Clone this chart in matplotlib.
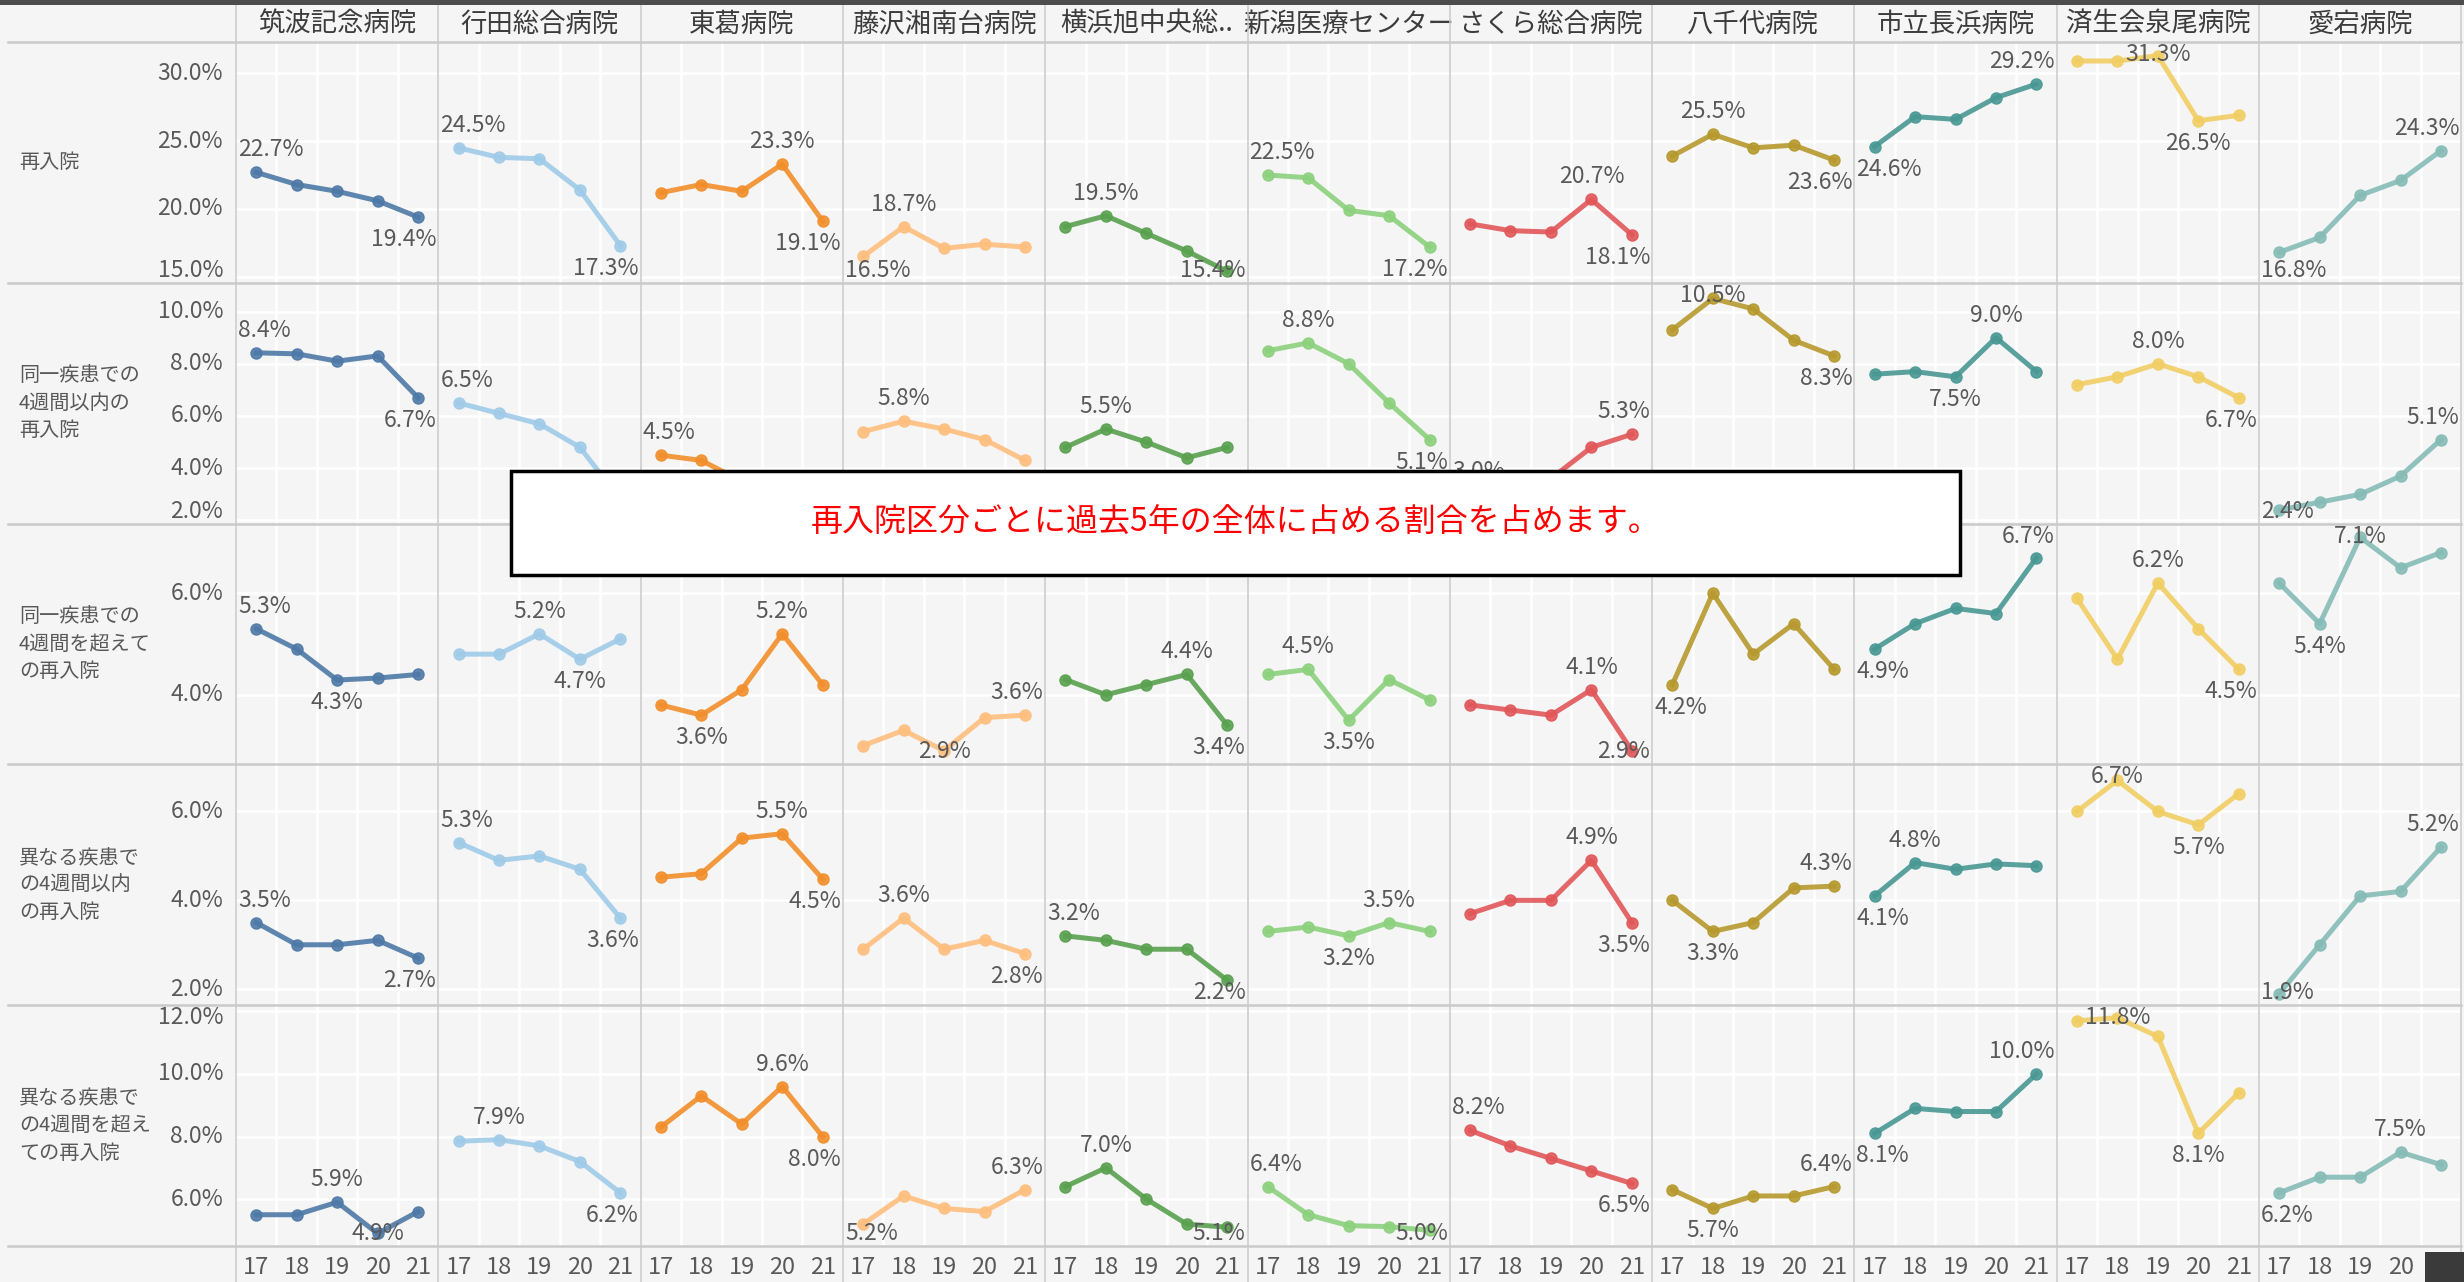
import matplotlib
matplotlib.use("Agg")
import matplotlib.pyplot as plt
from matplotlib.patches import Rectangle
from matplotlib.lines import Line2D
from matplotlib.transforms import IdentityTransform

plt.rcParams['font.family'] = ['Noto Sans CJK JP', 'DejaVu Sans']

W, H = 2464, 1282

years = [17, 18, 19, 20, 21]
hospitals = ["筑波記念病院", "行田総合病院", "東葛病院", "藤沢湘南台病院", "横浜旭中央総..",
             "新潟医療センター", "さくら総合病院", "八千代病院", "市立長浜病院",
             "済生会泉尾病院", "愛宕病院"]
colors = ["#4e79a7", "#a0cbe8", "#f28e2b", "#ffbe7d", "#59a14f", "#8cd17d",
          "#e15759", "#b6992d", "#499894", "#f1ce63", "#86bcb6"]
row_labels = ["再入院",
              "同一疾患での\n4週間以内の\n再入院",
              "同一疾患での\n4週間を超えて\nの再入院",
              "異なる疾患で\nの4週間以内\nの再入院",
              "異なる疾患で\nの4週間を超え\nての再入院"]

# values in %, one list per hospital (2017..2021)
readmit_total = [
    [22.7, 21.8, 21.3, 20.6, 19.4],
    [24.5, 23.8, 23.7, 21.4, 17.3],
    [21.2, 21.8, 21.3, 23.3, 19.1],
    [16.5, 18.7, 17.1, 17.4, 17.2],
    [18.7, 19.5, 18.2, 16.9, 15.4],
    [22.5, 22.3, 19.9, 19.5, 17.2],
    [18.9, 18.4, 18.3, 20.7, 18.1],
    [23.9, 25.5, 24.5, 24.7, 23.6],
    [24.6, 26.8, 26.6, 28.2, 29.2],
    [30.9, 30.9, 31.3, 26.5, 26.9],
    [16.8, 17.9, 21.0, 22.1, 24.3],
]
same_within_4w = [
    [8.42, 8.38, 8.1, 8.3, 6.7],
    [6.5, 6.1, 5.7, 4.8, 2.8],
    [4.5, 4.3, 3.5, 3.4, 3.1],
    [5.4, 5.8, 5.5, 5.1, 4.3],
    [4.8, 5.5, 5.0, 4.4, 4.8],
    [8.5, 8.8, 8.0, 6.5, 5.1],
    [3.0, 3.1, 3.6, 4.8, 5.3],
    [9.3, 10.5, 10.1, 8.9, 8.3],
    [7.6, 7.7, 7.5, 9.0, 7.7],
    [7.2, 7.5, 8.0, 7.5, 6.7],
    [2.4, 2.7, 3.0, 3.7, 5.1],
]
same_over_4w = [
    [5.3, 4.9, 4.29, 4.33, 4.4],
    [4.8, 4.8, 5.2, 4.7, 5.1],
    [3.8, 3.6, 4.1, 5.2, 4.2],
    [3.0, 3.3, 2.9, 3.55, 3.6],
    [4.3, 4.0, 4.2, 4.4, 3.4],
    [4.4, 4.5, 3.5, 4.3, 3.9],
    [3.8, 3.7, 3.6, 4.1, 2.9],
    [4.2, 6.0, 4.8, 5.4, 4.5],
    [4.9, 5.4, 5.7, 5.6, 6.7],
    [5.9, 4.7, 6.2, 5.3, 4.5],
    [6.2, 5.4, 7.1, 6.5, 6.8],
]
diff_within_4w = [
    [3.5, 3.0, 3.0, 3.1, 2.7],
    [5.3, 4.9, 5.0, 4.7, 3.6],
    [4.52, 4.6, 5.4, 5.5, 4.48],
    [2.9, 3.6, 2.9, 3.1, 2.8],
    [3.2, 3.1, 2.9, 2.9, 2.2],
    [3.3, 3.4, 3.2, 3.5, 3.3],
    [3.7, 4.0, 4.0, 4.9, 3.5],
    [4.0, 3.3, 3.5, 4.28, 4.32],
    [4.1, 4.85, 4.7, 4.82, 4.78],
    [6.0, 6.7, 6.0, 5.7, 6.4],
    [1.9, 3.0, 4.1, 4.2, 5.2],
]
diff_over_4w = [
    [5.5, 5.5, 5.9, 4.9, 5.6],
    [7.85, 7.9, 7.7, 7.2, 6.2],
    [8.3, 9.3, 8.4, 9.6, 8.0],
    [5.2, 6.1, 5.7, 5.6, 6.3],
    [6.4, 7.0, 6.0, 5.2, 5.1],
    [6.4, 5.5, 5.15, 5.12, 5.0],
    [8.2, 7.7, 7.3, 6.9, 6.5],
    [6.3, 5.7, 6.1, 6.1, 6.4],
    [8.1, 8.9, 8.8, 8.8, 10.0],
    [11.7, 11.8, 11.2, 8.1, 9.4],
    [6.2, 6.7, 6.7, 7.5, 7.1],
]
rows = [readmit_total, same_within_4w, same_over_4w, diff_within_4w, diff_over_4w]

ylims = [(14.56, 32.3), (1.88, 11.1), (2.63, 7.37), (1.64, 7.06), (4.5, 12.2)]
yticks = [[15, 20, 25, 30], [2, 4, 6, 8, 10], [4, 6], [2, 4, 6], [6, 8, 10, 12]]
min_label_above = {(1, 6)}

note = "再入院区分ごとに過去5年の全体に占める割合を占めます。"

# layout in output pixels
col_left, col_w = 236, 202.3
row_top, row_h = 42, 240.8
box = (511, 471, 1960, 575)  # x0, y0, x1, y1 from top-left
BG = "#f5f5f5"
SEP = "#cacaca"
TXT = "#595959"
LABEL_FS = 16.5


def fx(x):
    return x / W


def fy(y):
    return 1 - y / H


def under_box(bb):
    x0, y0, x1, y1 = box
    return (bb.x0 >= x0 and bb.x1 <= x1 and
            bb.y0 >= H - y1 and bb.y1 <= H - y0)


def place(ax, renderer, s, x, y, ha, va, clamp_x=True, **kw):
    t = ax.text(x, y, s, transform=IdentityTransform(), ha=ha, va=va, **kw)
    bb = t.get_window_extent(renderer)
    ab = ax.get_window_extent(renderer)
    dx = dy = 0.0
    if clamp_x:
        if bb.x0 < ab.x0 + 2:
            dx = ab.x0 + 2 - bb.x0
        elif bb.x1 > ab.x1 - 2:
            dx = ab.x1 - 2 - bb.x1
    if bb.y0 < ab.y0 + 1:
        dy = ab.y0 + 1 - bb.y0
    elif bb.y1 > ab.y1 - 1:
        dy = ab.y1 - 1 - bb.y1
    t.set_position((x + dx, y + dy))
    # labels completely hidden by the note box are not drawn
    if under_box(t.get_window_extent(renderer)):
        t.remove()
    return t


fig = plt.figure(figsize=(W / 100, H / 100), dpi=100, facecolor=BG)
renderer = fig.canvas.get_renderer()

for r, data in enumerate(rows):
    for c, vals in enumerate(data):
        left = col_left + c * col_w
        top = row_top + r * row_h
        ax = fig.add_axes([fx(left), fy(top + row_h), col_w / W, row_h / H])
        ax.set_facecolor(BG)
        for sp in ax.spines.values():
            sp.set_visible(False)
        ax.set_xlim(16.5, 21.5)
        ax.set_ylim(*ylims[r])
        ax.set_yticks(yticks[r])
        ax.set_xticks(years)
        ax.set_xticks([17.5, 18.5, 19.5, 20.5], minor=True)
        ax.yaxis.grid(True, which="major", color="white", lw=1.8)
        ax.xaxis.grid(True, which="minor", color="white", lw=1.8)
        ax.set_axisbelow(True)
        ax.tick_params(which="both", length=0, labelleft=False, labelbottom=(r == 4))
        if r == 4:
            ax.set_xticklabels([str(y) for y in years], fontsize=17, color=TXT)
            ax.tick_params(axis="x", pad=7)
        ax.plot(years, vals, color=colors[c], lw=3.6, marker="o", ms=8,
                alpha=0.9, solid_joinstyle="round", zorder=3)

        # min / max labels
        imax = max(range(5), key=lambda i: vals[i])
        imin = min(range(5), key=lambda i: vals[i])
        for i, kind in ((imax, "max"), (imin, "min")):
            px, py = ax.transData.transform((years[i], vals[i]))
            above = kind == "max" or (r, c) in min_label_above
            if above:
                place(ax, renderer, f"{vals[i]:.1f}%", px, py + 11, "center", "bottom",
                      fontsize=LABEL_FS, color=TXT, zorder=4)
            else:
                place(ax, renderer, f"{vals[i]:.1f}%", px, py - 11, "center", "top",
                      fontsize=LABEL_FS, color=TXT, zorder=4)

        # y tick labels on first column
        if c == 0:
            for tv in yticks[r]:
                _, py = ax.transData.transform((17, tv))
                px = ax.get_window_extent(renderer).x0 - 13
                place(ax, renderer, f"{tv:.1f}%", px, py, "right", "center",
                      clamp_x=False, fontsize=LABEL_FS, color=TXT)

# header names
for c, name in enumerate(hospitals):
    cx = col_left + (c + 0.5) * col_w
    fig.text(fx(cx), fy(24), name, ha="center", va="center", fontsize=19, color="#3c3c3c")

# row labels
for r, lab in enumerate(row_labels):
    cy = row_top + (r + 0.5) * row_h
    fig.text(fx(19), fy(cy), lab, ha="left", va="center", fontsize=14.5,
             color=TXT, linespacing=1.4)

# pane separators
for c in range(12):
    x = col_left + c * col_w
    fig.add_artist(Line2D([fx(x), fx(x)], [fy(5), 0], transform=fig.transFigure,
                          color=SEP, lw=1.1, zorder=5))
for r in range(6):
    y = row_top + r * row_h
    fig.add_artist(Line2D([fx(8), fx(W - 3)], [fy(y), fy(y)], transform=fig.transFigure,
                          color=SEP, lw=1.8, zorder=5))

# top bar and corner mark
fig.add_artist(Rectangle((0, fy(5)), 1, 5 / H, transform=fig.transFigure,
                         facecolor="#4d4d4d", edgecolor="none", zorder=6))
fig.add_artist(Rectangle((fx(2425), 0), 39 / W, 30 / H, transform=fig.transFigure,
                         facecolor="#3a3a3a", edgecolor="none", zorder=6))

# note box
bx0, by0, bx1, by1 = box
fig.add_artist(Rectangle((fx(bx0), fy(by1)), (bx1 - bx0) / W, (by1 - by0) / H,
                         transform=fig.transFigure, facecolor="white",
                         edgecolor="black", lw=2.5, zorder=20))
fig.text(fx((bx0 + bx1) / 2), fy((by0 + by1) / 2), note, ha="center", va="center",
         fontsize=23, color="#ff0000", zorder=21)

fig.savefig("out.png", dpi=100, facecolor=BG)
